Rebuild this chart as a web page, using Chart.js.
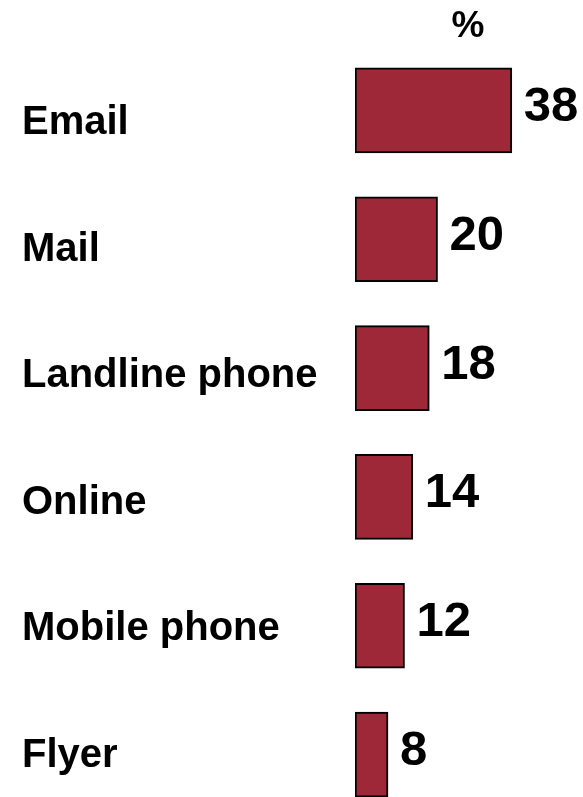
<!DOCTYPE html>
<html>
<head>
<meta charset="utf-8">
<script src="https://cdn.jsdelivr.net/npm/chart.js@4.4.1/dist/chart.umd.min.js"></script>
<style>
  html, body { margin: 0; padding: 0; background: #ffffff; overflow: hidden; }
  canvas { display: block; }
</style>
</head>
<body>
<canvas id="channelChart" width="583" height="843"></canvas>
<script>
const channels = ['Email', 'Mail', 'Landline phone', 'Online', 'Mobile phone', 'Flyer'];
const shares = [38, 20, 18, 14, 12, 8];
const unitLabel = '%';

// value printed just past the end of each bar, plus the unit over the column
const valueLabels = {
    id: 'valueLabels',
    afterDatasetsDraw(chart) {
        const ctx = chart.ctx;
        const meta = chart.getDatasetMeta(0);
        ctx.save();
        ctx.fillStyle = '#000000';
        ctx.font = 'bold 49px "Liberation Sans", Arial, sans-serif';
        ctx.textAlign = 'left';
        ctx.textBaseline = 'middle';
        meta.data.forEach((bar, i) => {
            ctx.fillText(String(shares[i]), bar.x + 12, bar.y - 3);
        });
        ctx.font = 'bold 37px "Liberation Sans", Arial, sans-serif';
        ctx.textAlign = 'center';
        ctx.fillText(unitLabel, 468, 27);
        ctx.restore();
    }
};

new Chart(document.getElementById('channelChart'), {
    type: 'bar',
    data: {
        labels: channels,
        datasets: [{
            data: shares,
            backgroundColor: '#9e2837',
            borderColor: '#000000',
            borderWidth: 2,
            borderSkipped: false,
            barThickness: 85
        }]
    },
    options: {
        indexAxis: 'y',
        responsive: false,
        animation: false,
        layout: { padding: { top: 46, left: 22, right: 1, bottom: 24 } },
        plugins: {
            legend: { display: false },
            tooltip: { enabled: false }
        },
        scales: {
            x: {
                display: false,
                min: 0,
                max: 55
            },
            y: {
                display: false
            },
            // the channel names sit on a slightly tighter pitch than the bars
            names: {
                type: 'linear',
                axis: 'y',
                position: 'left',
                reverse: true,
                offset: false,
                bounds: 'data',
                grace: 0,
                min: -0.61,
                max: 5.5,
                grid: { display: false, drawTicks: false },
                border: { display: false },
                afterBuildTicks: (scale) => {
                    scale.ticks = channels.map((c, i) => ({ value: i }));
                },
                afterFit: (scale) => { scale.width = 333; },
                ticks: {
                    autoSkip: false,
                    crossAlign: 'far',
                    padding: 0,
                    color: '#000000',
                    font: { family: '"Liberation Sans", Arial, sans-serif', size: 40, weight: 'bold' },
                    callback: (value) => channels[value]
                }
            }
        }
    },
    plugins: [valueLabels]
});
</script>
</body>
</html>
